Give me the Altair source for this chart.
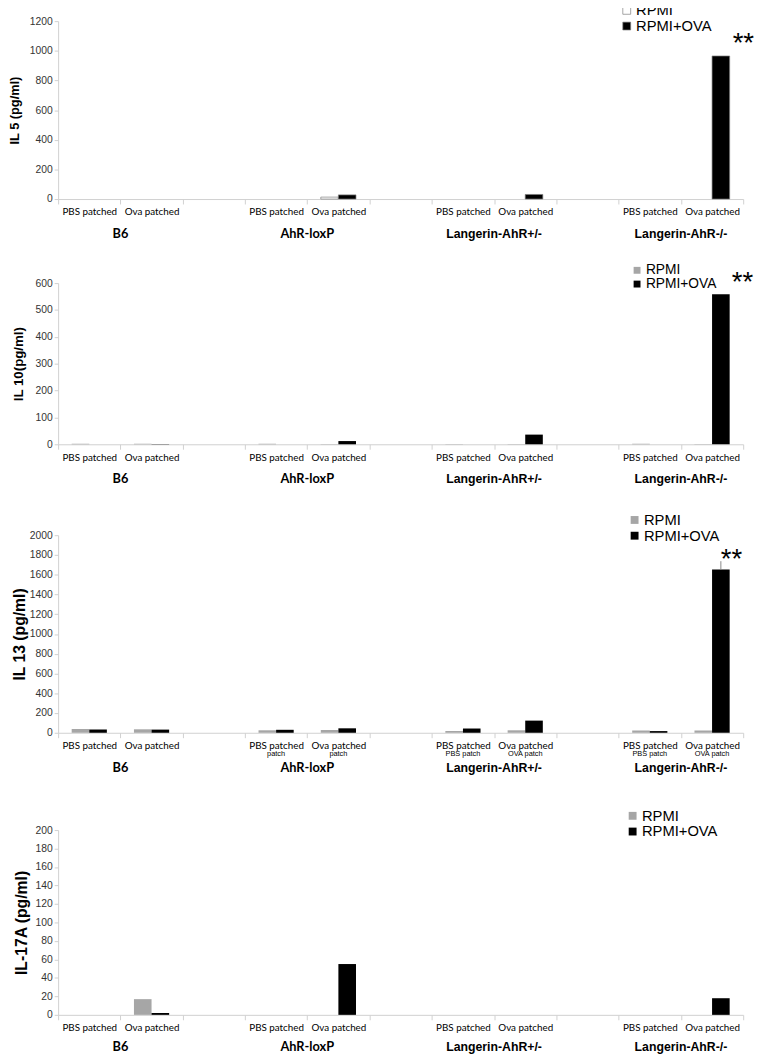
import altair as alt
import pandas as pd

strains = ["B6", "AhR-loxP", "Langerin-AhR+/-", "Langerin-AhR-/-"]
patches = ["PBS patched", "Ova patched"]
series = ["RPMI", "RPMI+OVA"]

# values per (strain, patch) in order: B6 PBS, B6 Ova, AhR PBS, AhR Ova, L+/- PBS, L+/- Ova, L-/- PBS, L-/- Ova
il5_rpmi = [0, 0, 0, 13, 0, 0, 0, 0]
il5_ova = [0, 0, 0, 28, 0, 31, 0, 965]
il10_rpmi = [2, 2, 2, 1, 1, 1, 2, 1]
il10_ova = [0, 1, 0, 12, 0, 36, 0, 558]
il13_rpmi = [38, 35, 25, 28, 18, 25, 23, 23]
il13_ova = [33, 32, 30, 45, 43, 123, 17, 1652]
il13_err_hi = 1737
il17_rpmi = [0, 17, 0, 0, 0, 0, 0, 0]
il17_ova = [0, 2, 0, 55, 0, 0, 0, 18]

p3_sub = {"AhR-loxP|PBS patched": "patch", "AhR-loxP|Ova patched": "patch",
          "Langerin-AhR+/-|PBS patched": "PBS patch", "Langerin-AhR+/-|Ova patched": "OVA patch",
          "Langerin-AhR-/-|PBS patched": "PBS patch", "Langerin-AhR-/-|Ova patched": "OVA patch"}

slots = []
for i, s in enumerate(strains):
    for p in patches:
        slots.append(f"{s}|{p}")
    if i < len(strains) - 1:
        slots.append(f"gap{i}")

W = 697
GRAY = "#a6a6a6"
AXC = "#d0d0d0"


def bars_df(rpmi, ova):
    rows = []
    k = 0
    for s in strains:
        for p in patches:
            rows.append(dict(slot=f"{s}|{p}", series="RPMI", value=rpmi[k]))
            rows.append(dict(slot=f"{s}|{p}", series="RPMI+OVA", value=ova[k]))
            k += 1
    return pd.DataFrame(rows)


def panel(title, rpmi, ova, ymax, ystep, h, title_size, title_pad, colors,
          leg_x, leg_y, leg_font, leg_row, sym, sym_stroke, star_dy, star_dx,
          err=None, group_dy=36, sub=None):
    xs = alt.Scale(domain=slots, paddingInner=0, paddingOuter=0)
    xaxis = alt.Axis(title=None, labelExpr="split(datum.value, '|')[1] || ''",
                     labelAngle=0, labelFont="Lato", labelFontSize=10, labelColor="#000",
                     labelPadding=3, tickBand="extent", tickSize=5, tickColor=AXC,
                     domainColor=AXC, grid=False)
    ys = alt.Scale(domain=[0, ymax], nice=False)
    yaxis = alt.Axis(title=title, titleFont="Liberation Sans", titleFontWeight="bold",
                     titleFontSize=title_size, titleColor="#000", titlePadding=title_pad,
                     values=list(range(0, ymax + 1, ystep)), format="d", labelFont="Liberation Sans",
                     labelFontSize=10.5, labelColor="#333", tickSize=4, tickColor=AXC,
                     domainColor=AXC, grid=False, labelPadding=2)
    xo = alt.XOffset("series:N", scale=alt.Scale(domain=series, paddingInner=0, paddingOuter=0.77))

    df = bars_df(rpmi, ova)
    enc = dict(
        x=alt.X("slot:N", scale=xs, axis=xaxis),
        xOffset=xo,
        y=alt.Y("value:Q", scale=ys, axis=yaxis),
        color=alt.Color("series:N", scale=alt.Scale(domain=series, range=colors),
                        legend=alt.Legend(orient="none", legendX=leg_x, legendY=leg_y, title=None,
                                          labelFont="Liberation Sans", labelFontSize=leg_font,
                                          labelColor="#000", rowPadding=leg_row, padding=0,
                                          symbolType="square", symbolSize=sym * sym,
                                          symbolStrokeColor="#7f7f7f",
                                          symbolStrokeWidth=0.7 if sym_stroke else 0,
                                          labelOffset=2)),
    )
    if sym_stroke:
        bars = alt.Chart(df).mark_bar(stroke="#7f7f7f").encode(
            strokeWidth=alt.condition("datum.value > 0", alt.value(0.7), alt.value(0)), **enc)
    else:
        bars = alt.Chart(df).mark_bar().encode(**enc)
    layers = [bars]

    if err is not None:
        edf = pd.DataFrame([dict(slot=slots[-1], series="RPMI+OVA", value=ova[-1], hi=err)])
        layers.append(alt.Chart(edf).mark_rule(color="#888", strokeWidth=1).encode(
            x=alt.X("slot:N", scale=xs, axis=xaxis), xOffset=xo,
            y=alt.Y("value:Q", scale=ys, axis=yaxis), y2="hi:Q"))
        star_val = err
    else:
        star_val = ova[-1]

    if star_dy is not None:
        sdf = pd.DataFrame([dict(slot=slots[-1], series="RPMI+OVA", value=star_val, t="**")])
        layers.append(alt.Chart(sdf).mark_text(align="left", baseline="alphabetic", dx=star_dx,
                                               dy=star_dy, fontSize=28, font="Liberation Sans",
                                               fontWeight="normal", color="#000").encode(
            x=alt.X("slot:N", scale=xs, axis=xaxis), xOffset=xo,
            y=alt.Y("value:Q", scale=ys, axis=yaxis), text="t:N"))

    if sub:
        subdf = pd.DataFrame([dict(slot=k, t=v) for k, v in sub.items()])
        layers.append(alt.Chart(subdf).mark_text(fontSize=7.5, font="Liberation Sans", color="#000",
                                                 baseline="middle").encode(
            x=alt.X("slot:N", scale=xs, axis=xaxis), y=alt.value(h + 22), text="t:N"))

    gdf1 = pd.DataFrame([dict(slot=f"{s}|Ova patched", t=s) for s in strains[:2]])
    gdf2 = pd.DataFrame([dict(slot=f"{s}|Ova patched", t=s) for s in strains[2:]])
    layers.append(alt.Chart(gdf1).mark_text(fontSize=13, font="Lato", fontWeight="bold",
                                            color="#000", baseline="middle").encode(
        x=alt.X("slot:N", scale=xs, axis=xaxis, bandPosition=0), y=alt.value(h + group_dy), text="t:N"))
    layers.append(alt.Chart(gdf2).mark_text(fontSize=12.5, font="Liberation Sans", fontWeight="bold",
                                            color="#000", baseline="middle").encode(
        x=alt.X("slot:N", scale=xs, axis=xaxis, bandPosition=0), y=alt.value(h + group_dy), text="t:N"))

    return alt.layer(*layers).properties(width=W, height=h)


p1 = panel("IL 5 (pg/ml)", il5_rpmi, il5_ova, 1200, 200, 181, 13, 8, ["#ffffff", "#000000"],
           571, -18.5, 15, 0, 8, True, star_dy=-4, star_dx=12)
p2 = panel("IL 10(pg/ml)", il10_rpmi, il10_ova, 600, 100, 164, 13.5, 10, [GRAY, "#000000"],
           582, -20, 14, 0, 7, False, star_dy=-3, star_dx=11, group_dy=35)
p3 = panel("IL 13 (pg/ml)", il13_rpmi, il13_ova, 2000, 200, 201, 16, 2, [GRAY, "#000000"],
           579, -23, 15, 0, 8, False, star_dy=7, star_dx=0, err=il13_err_hi, sub=p3_sub)
p4 = panel("IL-17A (pg/ml)", il17_rpmi, il17_ova, 200, 20, 188, 16, 6, [GRAY, "#000000"],
           577, -22, 15, 0, 8, False, star_dy=None, star_dx=0, group_dy=33)

res = dict(x="independent", y="independent", color="independent", xOffset="independent")
c12 = alt.vconcat(p1, p2, spacing=22.5).resolve_scale(**res)
c123 = alt.vconcat(c12, p3, spacing=27).resolve_scale(**res)
chart = alt.vconcat(c123, p4, spacing=34).resolve_scale(**res).properties(
    padding={"left": 0, "top": -14.8, "right": 0, "bottom": 0},
    background="white",
).configure_view(stroke=None)

chart.save("out.html", embed_options={"renderer": "svg", "actions": False})
